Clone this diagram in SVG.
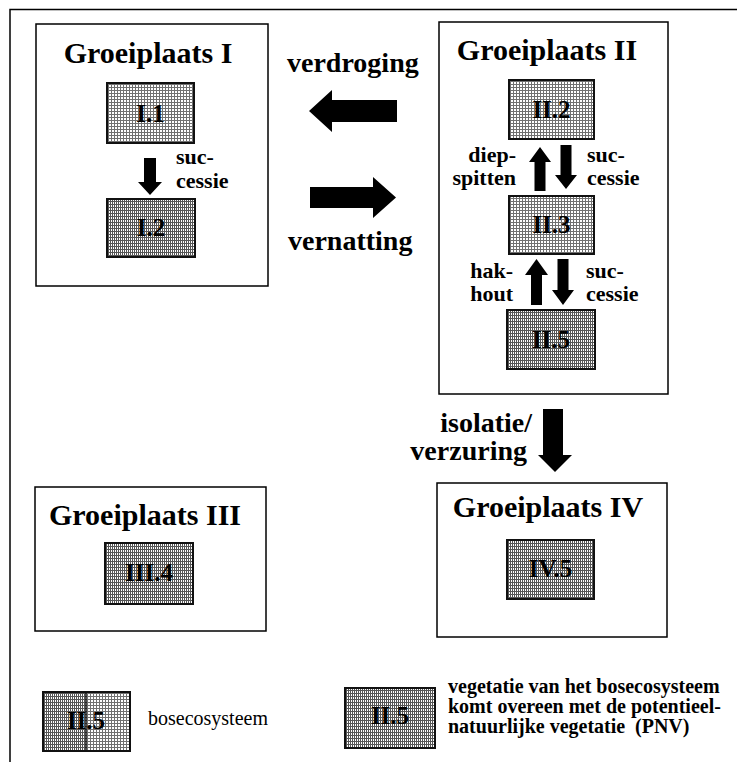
<svg xmlns="http://www.w3.org/2000/svg" width="737" height="762" viewBox="0 0 737 762">
<style>
text{font-family:"Liberation Serif","Times New Roman",serif;font-weight:bold;fill:#000}
.title{font-size:30px;text-anchor:middle}
.lbl{font-size:25px;text-anchor:middle}
.edge{font-size:22px}
.big{font-size:28px}
.leg{font-size:20px}
.frame{fill:#fff;stroke:#000;stroke-width:1.5}
.cell{stroke:#111;stroke-width:2}
.arrow{fill:#000}
</style>
<defs>
<pattern id="pl" width="3" height="3" patternUnits="userSpaceOnUse">
<rect width="3" height="3" fill="#fff"/>
<rect width="3" height="1" fill="#707070"/>
<rect width="1" height="3" fill="#707070"/>
</pattern>
<pattern id="pd" width="2" height="3" patternUnits="userSpaceOnUse">
<rect width="2" height="3" fill="#fff"/>
<rect width="2" height="1" fill="#555"/>
<rect width="1" height="3" fill="#555"/>
</pattern>
</defs>
<rect width="737" height="762" fill="#fff"/>
<g id="page-border" fill="none" stroke="#000" stroke-width="1.5">
<path d="M10 762 V9.5 H737"/>
</g>

<g id="groeiplaats-1">
<rect class="frame" x="36" y="24" width="232" height="262"/>
<text class="title" x="148" y="63">Groeiplaats I</text>
<g id="node-I1"><rect class="cell" x="107" y="83" width="87" height="60" fill="url(#pl)"/><text class="lbl" x="150.5" y="122">I.1</text></g>
<g id="node-I2"><rect class="cell" x="107" y="199" width="88" height="58" fill="url(#pd)"/><text class="lbl" x="151" y="236">I.2</text></g>
</g>

<g id="groeiplaats-2">
<rect class="frame" x="439" y="22" width="229" height="372"/>
<text class="title" x="547" y="60">Groeiplaats II</text>
<g id="node-II2"><rect class="cell" x="509" y="80" width="85" height="59" fill="url(#pl)"/><text class="lbl" x="551.5" y="118">II.2</text></g>
<g id="node-II3"><rect class="cell" x="509" y="196" width="85" height="58" fill="url(#pl)"/><text class="lbl" x="551.5" y="233">II.3</text></g>
<g id="node-II5"><rect class="cell" x="507" y="310" width="88" height="59" fill="url(#pd)"/><text class="lbl" x="551" y="348">II.5</text></g>
</g>

<g id="groeiplaats-3">
<rect class="frame" x="35" y="487" width="231" height="144"/>
<text class="title" x="145" y="525">Groeiplaats III</text>
<g id="node-III4"><rect class="cell" x="105" y="543" width="88" height="61" fill="url(#pd)"/><text class="lbl" x="149" y="581">III.4</text></g>
</g>

<g id="groeiplaats-4">
<rect class="frame" x="437" y="483" width="230" height="154"/>
<text class="title" x="548" y="517">Groeiplaats IV</text>
<g id="node-IV5"><rect class="cell" x="507" y="540" width="87" height="59" fill="url(#pd)"/><text class="lbl" x="550.5" y="577">IV.5</text></g>
</g>

<g id="connectors">
<polygon class="arrow" points="144,158 156,158 156,182 162,182 150,195 138,182 144,182"/>
<text class="edge" x="176" y="164">suc-</text>
<text class="edge" x="176" y="188">cessie</text>

<polygon class="arrow" points="397,100 397,122 332,122 332,132 309,111 332,90 332,100"/>
<text class="big" x="287" y="72">verdroging</text>
<polygon class="arrow" points="310,187 373,187 373,177 396,197.5 373,218 373,208 310,208"/>
<text class="big" x="288" y="250">vernatting</text>

<polygon class="arrow" points="534.5,191 545.5,191 545.5,162 551,162 540,147 529,162 534.5,162"/>
<polygon class="arrow" points="560.5,145 571.5,145 571.5,175 577,175 566,189 555,175 560.5,175"/>
<text class="edge" x="516" y="162" text-anchor="end">diep-</text>
<text class="edge" x="516" y="185" text-anchor="end">spitten</text>
<text class="edge" x="587" y="162">suc-</text>
<text class="edge" x="587" y="185">cessie</text>

<polygon class="arrow" points="531,305 542,305 542,275 548,275 536.5,259 525,275 531,275"/>
<polygon class="arrow" points="557.5,259 568.5,259 568.5,290 574,290 563,305 552,290 557.5,290"/>
<text class="edge" x="513" y="278" text-anchor="end">hak-</text>
<text class="edge" x="513" y="301" text-anchor="end">hout</text>
<text class="edge" x="586" y="278">suc-</text>
<text class="edge" x="586" y="301">cessie</text>

<polygon class="arrow" points="543,409 563,409 563,455 572,455 555,472 538,455 543,455"/>
<text class="big" x="532" y="432" text-anchor="end">isolatie/</text>
<text class="big" x="527" y="460" text-anchor="end">verzuring</text>
</g>

<g id="legend-1">
<rect x="43" y="692" width="43" height="59" fill="url(#pd)"/>
<rect x="86" y="692" width="44" height="59" fill="url(#pl)"/>
<rect class="cell" x="43" y="692" width="87" height="59" fill="none"/>
<line x1="86" y1="692" x2="86" y2="751" stroke="#111" stroke-width="1.5"/>
<text class="lbl" x="86" y="729">II.5</text>
<text class="leg" x="148" y="725" font-weight="normal" style="font-weight:normal">bosecosysteem</text>
</g>

<g id="legend-2">
<rect class="cell" x="345" y="688" width="90" height="60" fill="url(#pd)"/>
<text class="lbl" x="390" y="724">II.5</text>
<text class="leg" x="448" y="693">vegetatie van het bosecosysteem</text>
<text class="leg" x="448" y="713">komt overeen met de potentieel-</text>
<text class="leg" x="448" y="733">natuurlijke vegetatie <tspan x="635">(PNV)</tspan></text>
</g>
</svg>
